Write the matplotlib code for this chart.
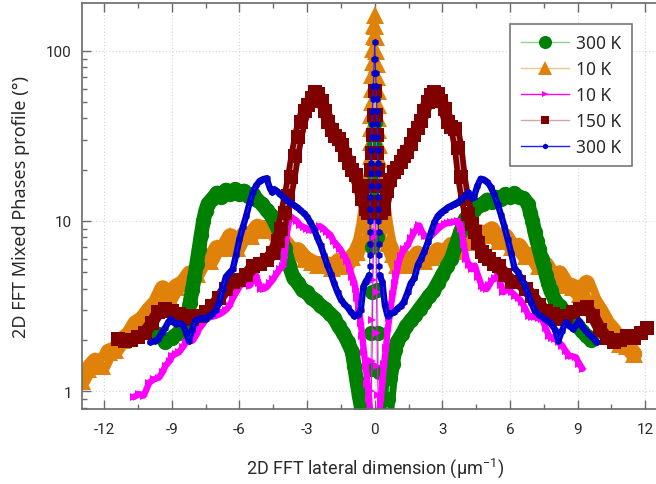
import matplotlib
matplotlib.use("Agg")
import matplotlib.pyplot as plt
from matplotlib.lines import Line2D
from matplotlib import ticker

plt.rcParams["axes.unicode_minus"] = False
plt.rcParams["mathtext.fontset"] = "custom"
plt.rcParams["mathtext.rm"] = "Roboto"
plt.rcParams["mathtext.it"] = "Roboto:italic"
plt.rcParams["mathtext.bf"] = "Roboto:bold"

# ---------------- profile data (x in um^-1, phase in degrees) ----------------
# Each profile: left wing, central peak, right wing.

# 300 K (circles)
green_lx = [-9.6, -9.3, -9.0, -8.7, -8.5, -8.3, -8.2, -8.1, -8.0, -7.9, -7.8, -7.7, -7.6, -7.5, -7.4,
            -7.2, -7.0, -6.8, -6.6, -6.4, -6.2, -6.0, -5.8, -5.6, -5.4, -5.2, -5.0, -4.8, -4.6, -4.4,
            -4.2, -4.0, -3.8, -3.6, -3.4, -3.2, -3.0, -2.8, -2.6, -2.4, -2.2, -2.0, -1.8, -1.6, -1.4,
            -1.2, -1.0, -0.9, -0.8, -0.7, -0.6, -0.5, -0.4]
green_ly = [2.15, 1.95, 2.05, 2.2, 2.45, 2.8, 3.3, 3.9, 4.6, 5.6, 6.8, 8.3, 10.0, 11.5, 12.6,
            13.5, 14.6, 13.8, 15.2, 14.4, 15.3, 14.3, 15.0, 14.0, 14.4, 13.2, 12.6, 11.6, 10.8, 9.6,
            8.4, 6.9, 5.5, 4.6, 4.3, 3.9, 3.8, 3.5, 3.4, 3.15, 3.05, 2.85, 2.7, 2.4, 2.2,
            1.95, 1.7, 1.4, 1.15, 0.95, 0.8, 0.68, 0.6]
green_cx = [-0.25, -0.18, -0.15, -0.12, -0.1, -0.08, -0.06, -0.03, 0.0, 0.03, 0.06, 0.09, 0.12, 0.15, 0.18, 0.25]
green_cy = [0.7, 1.35, 2.2, 3.8, 7.0, 12.0, 19.0, 28.0, 38.0, 26.0, 15.0, 8.0, 3.9, 2.2, 1.3, 0.7]
green_rx = [0.4, 0.5, 0.6, 0.7, 0.8, 0.9, 1.0, 1.2, 1.4, 1.6, 1.8, 2.0, 2.2, 2.4, 2.6, 2.8, 3.0, 3.2, 3.4,
            3.6, 3.8, 4.0, 4.2, 4.4, 4.6, 4.8, 5.0, 5.2, 5.4, 5.6, 5.8, 6.0, 6.2, 6.4, 6.6, 6.8, 6.9, 7.0,
            7.1, 7.2, 7.3, 7.4, 7.5, 7.6, 7.7, 7.8, 8.0, 8.2, 8.4, 8.6, 8.8, 9.0, 9.2, 9.4, 9.6]
green_ry = [0.6, 0.7, 0.9, 1.2, 1.45, 1.75, 1.95, 2.15, 2.4, 2.6, 2.8, 3.05, 3.3, 3.6, 3.85, 4.3, 4.8, 5.4, 6.0,
            7.2, 8.6, 10.2, 11.0, 11.6, 12.3, 12.6, 13.3, 13.0, 13.8, 13.5, 14.3, 13.9, 14.5, 13.8, 13.6, 12.6, 11.2, 10.0,
            8.6, 7.6, 6.8, 6.0, 5.4, 4.8, 4.3, 3.9, 3.4, 3.15, 2.95, 2.8, 2.6, 2.4, 2.25, 2.1, 2.0]

# 10 K (up triangles)
orange_lx = [-13.0, -12.7, -12.4, -12.1, -11.8, -11.5, -11.2, -10.9, -10.6, -10.3, -10.0, -9.7, -9.4, -9.1, -8.8,
             -8.5, -8.2, -7.9, -7.6, -7.3, -7.0, -6.7, -6.4, -6.1, -5.8, -5.5, -5.2, -4.9, -4.6, -4.3,
             -4.0, -3.7, -3.4, -3.1, -2.8, -2.5, -2.2, -1.9, -1.6, -1.3, -1.0, -0.8, -0.6, -0.45, -0.35]
orange_ly = [1.15, 1.35, 1.5, 1.4, 1.7, 1.75, 2.0, 2.15, 2.5, 2.65, 3.0, 3.3, 4.0, 3.5, 4.1,
             4.3, 4.9, 4.9, 5.8, 5.8, 6.9, 6.9, 8.1, 6.9, 8.3, 8.2, 9.2, 8.9, 9.3, 7.9,
             7.5, 6.7, 6.7, 6.0, 5.7, 5.5, 5.6, 5.3, 5.8, 5.4, 6.1, 6.6, 7.6, 9.5, 12.0]
orange_cx = [-0.3, -0.22, -0.2, -0.18, -0.17, -0.16, -0.15, -0.14, -0.13, -0.11, -0.09, -0.07, -0.05, -0.03, 0.0,
             0.03, 0.05, 0.07, 0.09, 0.11, 0.13, 0.14, 0.15, 0.16, 0.17, 0.18, 0.2, 0.22, 0.3]
orange_cy = [14.0, 17.0, 20.0, 24.0, 29.0, 35.0, 42.0, 50.0, 60.0, 72.0, 86.0, 103.0, 122.0, 142.0, 162.0,
             140.0, 120.0, 100.0, 84.0, 70.0, 58.0, 48.0, 40.0, 34.0, 28.0, 23.0, 19.0, 16.0, 13.5]
orange_rx = [0.35, 0.45, 0.6, 0.8, 1.0, 1.3, 1.6, 1.9, 2.2, 2.5, 2.8, 3.1, 3.4, 3.7, 4.0, 4.3, 4.6, 4.9, 5.2, 5.5,
             5.8, 6.1, 6.4, 6.7, 7.0, 7.3, 7.6, 7.9, 8.2, 8.5, 8.8, 9.1, 9.4, 9.7, 10.0, 10.3, 10.6, 10.9, 11.2, 11.5]
orange_ry = [12.0, 9.5, 7.4, 6.4, 5.5, 6.1, 5.5, 6.4, 5.8, 6.1, 6.7, 6.3, 7.2, 6.7, 7.7, 7.5, 8.6, 8.3, 8.9, 7.6,
             8.1, 7.0, 7.1, 6.2, 6.3, 5.4, 5.5, 4.7, 4.9, 4.2, 4.1, 3.7, 4.3, 3.4, 2.95, 2.5, 2.25, 1.9, 1.85, 1.65]

# 10 K (right triangles)
magenta_lx = [-10.7, -10.45, -10.25, -10.0, -9.8, -9.57, -9.4, -9.28, -9.1, -8.98, -8.8, -8.68, -8.5, -8.38, -8.2,
              -8.08, -7.9, -7.79, -7.6, -7.49, -7.3, -7.04, -6.9, -6.74, -6.6, -6.44, -6.3, -6.14, -6.0, -5.85,
              -5.7, -5.55, -5.4, -5.25, -5.15, -5.03, -4.9, -4.8, -4.65, -4.5, -4.35, -4.21, -4.06, -3.98, -3.91,
              -3.83, -3.76, -3.6, -3.46, -3.3, -3.15, -3.0, -2.86, -2.7, -2.55, -2.42, -2.27, -2.12, -1.97, -1.82,
              -1.67, -1.52, -1.37, -1.22, -1.1, -1.0, -0.92, -0.85, -0.78, -0.7, -0.62, -0.55, -0.48, -0.4, -0.32,
              -0.25, -0.2]
magenta_ly = [0.92, 0.96, 0.94, 1.12, 1.17, 1.2, 1.3, 1.41, 1.5, 1.61, 1.66, 1.69, 1.82, 1.93, 1.96,
              1.98, 2.15, 2.32, 2.5, 2.65, 2.72, 2.77, 2.82, 2.9, 3.0, 3.17, 3.5, 3.81, 4.1, 4.36,
              4.25, 4.16, 4.45, 4.77, 4.3, 3.98, 4.0, 4.07, 4.3, 4.55, 4.9, 5.2, 5.46, 6.7, 8.2,
              9.5, 10.7, 10.3, 10.0, 9.4, 9.2, 9.0, 8.8, 8.9, 9.1, 9.3, 9.0, 8.6, 8.3, 7.6,
              7.2, 6.8, 6.3, 5.8, 5.2, 4.7, 4.4, 3.98, 3.5, 3.03, 2.5, 2.11, 1.7, 1.41, 1.1,
              0.9, 0.75]
magenta_cx = [-0.15, -0.12, -0.1, -0.08, -0.05, 0.0, 0.05, 0.08, 0.1, 0.12, 0.15]
magenta_cy = [1.0, 1.5, 2.6, 4.5, 8.0, 12.5, 8.6, 3.8, 2.2, 1.4, 0.95]
magenta_rx = [0.2, 0.27, 0.35, 0.42, 0.5, 0.57, 0.65, 0.72, 0.8, 0.88, 0.96, 1.05, 1.16, 1.3, 1.46,
              1.6, 1.76, 1.9, 1.98, 2.1, 2.21, 2.32, 2.43, 2.6, 2.81, 2.95, 3.1, 3.25, 3.4, 3.55,
              3.7, 3.78, 3.85, 3.95, 4.07, 4.18, 4.3, 4.44, 4.6, 4.74, 4.85, 4.97, 5.08, 5.19, 5.35,
              5.49, 5.6, 5.71, 5.83, 5.94, 6.08, 6.23, 6.38, 6.53, 6.68, 6.83, 6.98, 7.13, 7.28, 7.43,
              7.58, 7.73, 7.88, 8.02, 8.17, 8.32, 8.47, 8.62, 8.77, 8.92, 9.07, 9.22]
magenta_ry = [0.75, 0.9, 1.15, 1.45, 1.8, 2.25, 2.7, 3.2, 3.7, 4.3, 4.9, 5.6, 6.25, 6.8, 7.16,
              7.9, 8.6, 9.1, 9.4, 8.6, 8.2, 8.1, 8.0, 8.4, 8.96, 9.3, 9.6, 9.7, 9.8, 9.9,
              10.0, 9.6, 8.96, 7.3, 5.98, 5.5, 5.2, 5.46, 4.7, 4.16, 4.05, 3.98, 4.2, 4.46, 4.6,
              4.77, 4.2, 3.81, 3.9, 3.98, 3.8, 3.64, 3.5, 3.33, 3.05, 2.77, 2.74, 2.71, 2.68, 2.65,
              2.35, 2.11, 2.06, 2.02, 1.93, 1.85, 1.72, 1.61, 1.6, 1.58, 1.45, 1.35]

# 150 K (squares)
maroon_lx = [-11.4, -11.1, -10.8, -10.5, -10.2, -9.9, -9.6, -9.3, -9.0, -8.7, -8.4, -8.1, -7.8, -7.5, -7.2,
             -6.9, -6.6, -6.3, -6.0, -5.7, -5.4, -5.1, -4.8, -4.5, -4.3, -4.15,
             -4.0, -3.85, -3.7, -3.55, -3.4, -3.25, -3.1, -2.95, -2.8, -2.65, -2.5, -2.35, -2.2, -2.05, -1.9,
             -1.75, -1.6, -1.45, -1.3, -1.15, -1.0, -0.85, -0.7, -0.55, -0.4, -0.3]
maroon_ly = [2.02, 1.98, 2.0, 2.07, 2.2, 2.5, 2.9, 3.05, 2.95, 2.85, 2.75, 2.65, 2.75, 2.9, 3.15,
             3.5, 4.0, 4.35, 4.5, 4.8, 5.4, 5.6, 5.9, 6.5, 7.6, 9.0,
             11.2, 14.0, 18.0, 24.0, 31.0, 38.0, 44.0, 48.0, 53.0, 57.0, 56.0, 51.0, 44.0, 38.0, 34.0,
             31.5, 30.5, 28.0, 24.5, 22.0, 20.0, 18.5, 16.0, 13.5, 11.8, 11.2]
maroon_cx = [-0.22, -0.18, -0.15, -0.12, -0.09, -0.05, 0.0, 0.05, 0.09, 0.12, 0.15, 0.18, 0.22]
maroon_cy = [13.0, 16.0, 20.0, 25.0, 32.0, 42.0, 58.0, 42.0, 32.0, 25.0, 20.0, 16.0, 13.0]
maroon_rx = [0.3, 0.4, 0.55, 0.7, 0.85, 1.0, 1.15, 1.3, 1.45, 1.6, 1.75, 1.9, 2.05, 2.2, 2.35,
             2.5, 2.65, 2.8, 2.95, 3.1, 3.25, 3.4, 3.55, 3.7, 3.85, 4.0, 4.15, 4.3, 4.45, 4.6,
             4.75, 4.9, 5.05, 5.3, 5.5, 5.8, 6.1, 6.4, 6.7, 7.0, 7.3, 7.6, 7.9, 8.2, 8.5,
             8.8, 9.1, 9.4, 9.7, 10.0, 10.3, 10.6, 10.9, 11.2, 11.5, 11.8, 12.1]
maroon_ry = [11.2, 11.8, 15.0, 17.5, 19.3, 20.5, 22.2, 24.0, 25.5, 28.5, 31.8, 35.0, 38.5, 44.0, 50.0,
             55.0, 57.0, 56.0, 51.0, 45.6, 38.0, 35.5, 34.5, 27.0, 18.0, 13.5, 11.0, 9.6, 8.6, 7.4,
             6.6, 6.2, 6.0, 5.6, 5.4, 4.8, 4.4, 4.35, 4.0, 3.6, 3.2, 2.95, 2.85, 2.65, 2.75,
             2.9, 3.05, 3.1, 2.75, 2.3, 2.05, 1.95, 2.0, 2.12, 2.05, 2.2, 2.35]

# 300 K (hexagons)
blue_lx = [-9.95, -9.75, -9.6, -9.45, -9.3, -9.15, -9.05, -8.95, -8.8, -8.65, -8.5, -8.35, -8.25, -8.1, -7.95,
           -7.8, -7.65, -7.5, -7.35, -7.2, -7.05, -6.9, -6.75, -6.6, -6.45, -6.3, -6.15, -6.0, -5.85, -5.7,
           -5.55, -5.4, -5.25, -5.1, -4.95, -4.8, -4.65, -4.55, -4.45, -4.35, -4.2, -4.05, -3.9, -3.75, -3.6,
           -3.45, -3.3, -3.15, -3.0, -2.85, -2.7, -2.55, -2.4, -2.25, -2.1, -1.95, -1.8, -1.65, -1.5, -1.35,
           -1.2, -1.05, -0.9, -0.75, -0.62, -0.5, -0.4, -0.3, -0.25]
blue_ly = [1.93, 1.97, 2.02, 2.2, 2.35, 2.55, 2.65, 2.55, 2.48, 2.5, 2.42, 2.2, 1.98, 2.3, 2.6,
           2.65, 2.7, 2.65, 2.75, 2.84, 3.0, 3.3, 4.0, 4.7, 4.95, 5.2, 6.3, 7.8, 9.2, 10.7,
           12.8, 14.8, 16.2, 17.2, 17.6, 17.8, 15.6, 14.7, 15.3, 15.0, 14.3, 13.8, 13.2, 12.8, 12.4,
           12.0, 11.6, 11.1, 10.6, 9.8, 9.0, 8.0, 7.2, 6.3, 5.5, 4.9, 4.3, 3.8, 3.45, 3.25,
           3.1, 2.9, 2.75, 2.8, 3.0, 4.1, 4.4, 4.6, 4.8]
blue_cx = [-0.22, -0.22, -0.21, -0.21, -0.2, -0.2, -0.19, -0.18, -0.17, -0.16, -0.15, -0.13, -0.12, -0.1, -0.08,
           -0.06, -0.04, -0.02, 0.0, 0.02, 0.04, 0.06, 0.08, 0.1, 0.11, 0.12, 0.13, 0.14, 0.14, 0.15,
           0.15, 0.16, 0.16, 0.17, 0.17, 0.18, 0.18]
blue_cy = [5.4, 6.3, 7.3, 8.6, 10.0, 11.8, 13.8, 16.0, 19.0, 22.0, 26.0, 31.0, 37.0, 44.0, 52.0,
           62.0, 74.0, 90.0, 112.0, 90.0, 74.0, 62.0, 52.0, 44.0, 37.0, 31.0, 26.0, 22.0, 19.0, 16.0,
           13.8, 11.8, 10.0, 8.6, 7.3, 6.3, 5.4]
blue_rx = [0.22, 0.34, 0.45, 0.57, 0.7, 0.86, 1.0, 1.16, 1.3, 1.46, 1.6, 1.76, 1.91, 2.06, 2.2,
           2.36, 2.5, 2.65, 2.8, 2.95, 3.1, 3.25, 3.4, 3.55, 3.7, 3.85, 4.0, 4.15, 4.3, 4.4,
           4.55, 4.7, 4.85, 5.0, 5.15, 5.3, 5.45, 5.6, 5.75, 5.9, 6.05, 6.2, 6.35, 6.5, 6.65,
           6.8, 6.95, 7.1, 7.3, 7.55, 7.8, 8.0, 8.15, 8.3, 8.47, 8.65, 8.8, 8.95, 9.07, 9.2,
           9.36, 9.5, 9.66, 9.85]
blue_ry = [4.8, 4.36, 3.2, 2.77, 2.85, 2.9, 3.05, 3.17, 3.35, 3.8, 4.3, 4.6, 5.5, 6.0, 6.6,
           7.5, 8.6, 9.8, 10.7, 11.2, 11.6, 12.0, 12.3, 12.6, 12.9, 13.4, 14.0, 14.7, 13.6, 13.8,
           16.0, 17.7, 17.5, 16.9, 15.8, 14.3, 12.6, 10.9, 9.3, 7.8, 6.5, 5.3, 5.0, 4.6, 4.2,
           3.7, 3.3, 2.95, 2.8, 2.65, 2.5, 2.3, 1.98, 2.25, 2.53, 2.4, 2.32, 2.45, 2.59, 2.4,
           2.26, 2.15, 2.07, 1.93]

labels = ["300 K", "10 K", "10 K", "150 K", "300 K"]
x_ticks = [-12, -9, -6, -3, 0, 3, 6, 9, 12]

# ---------------- figure ----------------
fig = plt.figure(figsize=(6.56, 4.85), dpi=100)
ax = fig.add_axes([0.1245, 0.1546, 0.8934, 0.8372])

profiles = [
    ((green_lx, green_ly), (green_cx, green_cy), (green_rx, green_ry)),
    ((orange_lx, orange_ly), (orange_cx, orange_cy), (orange_rx, orange_ry)),
    ((magenta_lx, magenta_ly), (magenta_cx, magenta_cy), (magenta_rx, magenta_ry)),
    ((maroon_lx, maroon_ly), (maroon_cx, maroon_cy), (maroon_rx, maroon_ry)),
    ((blue_lx, blue_ly), (blue_cx, blue_cy), (blue_rx, blue_ry)),
]

# marker, plot size, wing band width, legend size, marker colour, line colour, zorder
styles = [
    ("o", 11.0, 10.5, 9.4, "#008000", "#8fd08f", 2.2),
    ("^", 13.0, 12.0, 9.5, "#e0820a", "#f3c48c", 2.1),
    (">", 5.2, 4.6, 5.0, "#ff00ff", "#ff00ff", 2.3),
    ("s", 9.5, 9.0, 6.0, "#800000", "#d4a5a5", 2.4),
    ("h", 5.2, 4.6, 4.2, "#0000c8", "#1f1fff", 2.5),
]

handles = []
for (left, mid, right), (mk, ms, bw, lms, mc, lc, z), lab in zip(profiles, styles, labels):
    # dense wings drawn as a continuous band under the markers
    for wx, wy in (left, right):
        ax.plot(wx, wy, color=mc, lw=bw, solid_joinstyle="round",
                solid_capstyle="round", zorder=z)
    xs = left[0] + mid[0] + right[0]
    ys = left[1] + mid[1] + right[1]
    ax.plot(xs, ys, color=lc, lw=0.8, marker=mk, ms=ms, mfc=mc, mec=mc,
            mew=0.0, zorder=z + 0.01)
    handles.append(Line2D([], [], color=lc, lw=1.0, marker=mk, ms=lms,
                          mfc=mc, mec=mc, mew=0.0, label=lab))

ax.set_yscale("log")
ax.set_xlim(-13, 13)
ax.set_ylim(0.784, 191)

ax.xaxis.set_major_locator(ticker.FixedLocator(x_ticks))
ax.xaxis.set_minor_locator(ticker.MultipleLocator(1.5))
ax.yaxis.set_major_locator(ticker.LogLocator(base=10))
ax.yaxis.set_minor_locator(ticker.LogLocator(base=10, subs=(2, 3, 4, 5, 6, 7, 8, 9)))
ax.yaxis.set_major_formatter(ticker.FuncFormatter(lambda v, p: f"{v:g}"))
ax.yaxis.set_minor_formatter(ticker.NullFormatter())

spine_c = "#6a6a6a"
for s in ax.spines.values():
    s.set_color(spine_c)
    s.set_linewidth(1.2)

ax.tick_params(which="both", direction="in", top=True, right=True,
               color=spine_c, width=1.0)
ax.tick_params(which="major", length=6.5)
ax.tick_params(which="minor", length=3.6)
ax.tick_params(axis="x", which="major", pad=9)
ax.tick_params(axis="y", which="major", pad=7)
for lbl in ax.get_xticklabels() + ax.get_yticklabels():
    lbl.set_fontfamily("Roboto")
    lbl.set_fontsize(11)
    lbl.set_color("#2a2a2a")

ax.grid(which="major", linestyle=(0, (1, 2)), color="#d5d5d5", linewidth=0.8)
ax.set_axisbelow(True)

ax.set_xlabel("2D FFT lateral dimension (μm$^{-1}$)", fontfamily="Roboto",
              fontsize=13, color="#2a2a2a", labelpad=14)
ax.set_ylabel("2D FFT Mixed Phases profile (°)", fontfamily="Noto Sans",
              fontsize=13, color="#2a2a2a", labelpad=12)

leg = ax.legend(handles=handles, loc="upper right",
                bbox_to_anchor=(632 / 656, 1 - 25 / 485),
                bbox_transform=fig.transFigure, borderaxespad=0,
                frameon=True, fancybox=False, framealpha=1,
                edgecolor="#777777", handlelength=2.8, handletextpad=0.4,
                labelspacing=0.45, borderpad=0.6,
                prop={"family": "Noto Sans", "size": 12.5})
leg.get_frame().set_linewidth(1.2)
leg.set_zorder(5)
for t in leg.get_texts():
    t.set_color("#2a2a2a")

fig.savefig("out.png", dpi=100)
